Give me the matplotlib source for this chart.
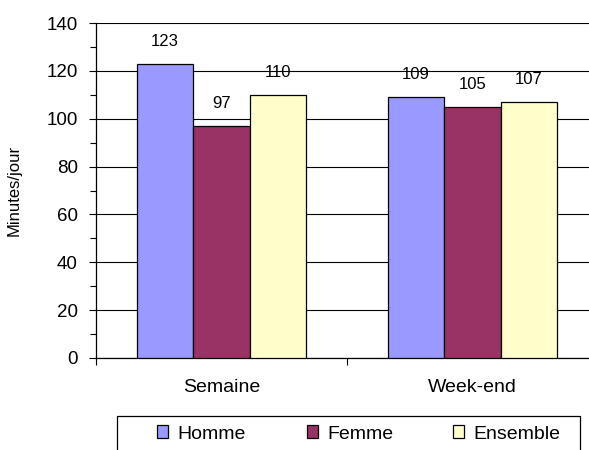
import matplotlib
matplotlib.use("Agg")
import matplotlib.pyplot as plt
from matplotlib.patches import Rectangle
from matplotlib.ticker import MultipleLocator, FixedLocator, NullFormatter, FixedFormatter

plt.rcParams['font.family'] = ['Liberation Sans', 'DejaVu Sans']

categories = ["Semaine", "Week-end"]
series_names = ["Homme", "Femme", "Ensemble"]
homme = [123, 109]
femme = [97, 105]
ensemble = [110, 107]
colors = ["#9999FF", "#993366", "#FFFFCC"]
y_label = "Minutes/jour"

W, H = 589, 450
fig = plt.figure(figsize=(W / 100, H / 100), dpi=100)
ax_left, ax_right, ax_top, ax_bottom = 96, 598, 23, 358
ax = fig.add_axes([ax_left / W, 1 - ax_bottom / H, (ax_right - ax_left) / W, (ax_bottom - ax_top) / H])

bw = 0.2245
series = [homme, femme, ensemble]
containers = []
for k, (vals, col, name) in enumerate(zip(series, colors, series_names)):
    xs = [i + 0.5 + (k - 1) * bw for i in range(len(categories))]
    bc = ax.bar(xs, vals, width=bw, color=col, edgecolor="black", linewidth=0.9, label=name, zorder=3)
    containers.append(bc)
    for x, v in zip(xs, vals):
        ax.annotate(str(v), (x, v), xytext=(0, 16.2), textcoords="offset points",
                    ha="center", va="center", fontsize=12, color="black")

ax.set_xlim(0, len(categories))
ax.set_ylim(0, 140)
ax.yaxis.set_major_locator(MultipleLocator(20))
ax.yaxis.set_minor_locator(MultipleLocator(10))
ax.tick_params(axis="y", which="major", direction="out", length=5, width=0.8, pad=8, labelsize=13.5)
ax.tick_params(axis="y", which="minor", direction="out", length=4, width=0.8)
ax.grid(axis="y", which="major", color="black", linewidth=0.8, zorder=0)

ax.xaxis.set_major_locator(FixedLocator(list(range(len(categories) + 1))))
ax.xaxis.set_major_formatter(NullFormatter())
ax.xaxis.set_minor_locator(FixedLocator([i + 0.5 for i in range(len(categories))]))
ax.xaxis.set_minor_formatter(FixedFormatter(categories))
ax.tick_params(axis="x", which="major", direction="out", length=5, width=0.8)
ax.tick_params(axis="x", which="minor", length=0, pad=15, labelsize=14)

for s in ["top", "right"]:
    ax.spines[s].set_visible(False)
for s in ["left", "bottom"]:
    ax.spines[s].set_linewidth(0.9)
    ax.spines[s].set_color("black")

ax.set_ylabel(y_label, fontsize=12)
ax.yaxis.set_label_coords((21.5 - ax_left) / (ax_right - ax_left), 0.5)

# legend frame
lx0, ly0, lx1 = 117, 416, 580
fig.patches.append(Rectangle((lx0 / W, 0 - 0.02), (lx1 - lx0) / W, (H - ly0) / H + 0.02,
                             transform=fig.transFigure, fill=False, edgecolor="black", linewidth=0.9))
leg_x = [147, 297, 443]
leg_y = 434
for bc, name, x in zip(containers, series_names, leg_x):
    fig.legend([bc], [name], loc="center left", bbox_to_anchor=(x / W, 1 - leg_y / H),
               frameon=False, borderpad=0, handlelength=0.6, handleheight=0.6,
               handletextpad=0.45, fontsize=14)

fig.savefig("out.png", dpi=100)
